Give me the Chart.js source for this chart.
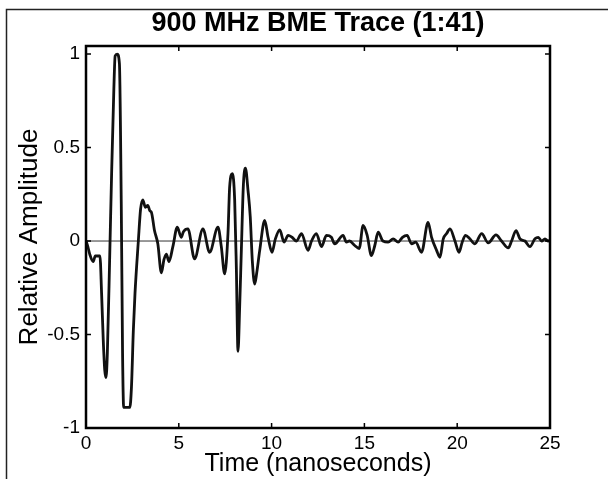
<!DOCTYPE html>
<html>
<head>
<meta charset="utf-8">
<script src="https://cdn.jsdelivr.net/npm/chart.js@4.4.1/dist/chart.umd.min.js"></script>
<style>
  html, body { margin: 0; padding: 0; background: #fff; }
  canvas { display: block; }
</style>
</head>
<body>
<canvas id="c" width="608" height="479"></canvas>
<script>
// ---- Data ----
const TITLE = '900 MHz BME Trace (1:41)';
const X_LABEL = 'Time (nanoseconds)';
const Y_LABEL = 'Relative Amplitude';
const xTicks = [0, 5, 10, 15, 20, 25];
const yTicks = [-1, -0.5, 0, 0.5, 1];

const timeNs = [
  0.0, 0.1, 0.2, 0.39, 0.5, 0.75, 0.84, 0.93, 1.01, 1.08, 1.15, 1.28, 1.38, 1.5, 1.57, 1.68, 1.8, 1.9, 1.97, 2.03,
  2.36, 2.45, 2.55, 2.64, 2.82, 2.94, 3.06, 3.2, 3.33, 3.45, 3.52, 3.69, 3.87, 4.06, 4.2, 4.33, 4.47, 4.68, 4.92, 5.13,
  5.25, 5.49, 5.85, 6.3, 6.66, 7.11, 7.29, 7.47, 7.65, 7.74, 7.89, 8.01, 8.1, 8.19, 8.28, 8.37, 8.48, 8.59, 8.73, 8.85,
  8.96, 9.09, 9.2, 9.36, 9.63, 9.81, 10.02, 10.2, 10.44, 10.67, 10.89, 11.1, 11.34, 11.61, 11.96, 12.15, 12.41, 12.69, 12.95, 13.22,
  13.4, 13.85, 14.03, 14.2, 14.48, 14.72, 14.93, 15.15, 15.38, 15.56, 15.74, 16.0, 16.28, 16.55, 16.82, 17.05, 17.3, 17.54, 17.76, 18.08,
  18.43, 18.62, 18.89, 19.07, 19.25, 19.43, 19.61, 19.88, 20.1, 20.27, 20.45, 20.68, 20.95, 21.32, 21.67, 22.09, 22.39, 22.75, 22.93, 23.17,
  23.38, 23.65, 23.92, 24.19, 24.37, 24.55, 24.73, 24.91, 25.0
];
const amplitude = [
  0.0, -0.03, -0.07, -0.11, -0.08, -0.08, -0.28, -0.53, -0.69, -0.73, -0.6, -0.07, 0.36, 0.81, 0.99, 1.0, 0.95, 0.2, -0.6, -0.89,
  -0.89, -0.78, -0.48, -0.28, 0.0, 0.17, 0.22, 0.18, 0.19, 0.16, 0.155, 0.056, -0.015, -0.17, -0.1, -0.07, -0.11, -0.03, 0.074, 0.02,
  0.05, 0.065, -0.095, 0.065, -0.06, 0.074, -0.03, -0.176, 0.04, 0.29, 0.36, 0.22, -0.14, -0.59, -0.35, -0.05, 0.3, 0.39, 0.27, 0.13,
  -0.105, -0.23, -0.17, -0.05, 0.11, 0.02, -0.06, 0.01, 0.06, -0.006, 0.03, 0.02, 0.0, 0.04, -0.05, 0.0, 0.04, -0.03, 0.03, 0.02,
  -0.015, 0.03, -0.006, 0.0, -0.024, -0.04, 0.083, 0.03, -0.078, -0.024, 0.047, 0.0, -0.006, 0.012, -0.006, 0.02, 0.03, -0.015, -0.006, -0.06,
  0.1, 0.02, -0.05, -0.087, 0.012, 0.04, 0.065, 0.0, -0.06, -0.006, 0.03, 0.012, -0.015, 0.04, -0.01, 0.033, 0.0, -0.037, 0.0, 0.056,
  0.012, 0.0, -0.03, 0.012, 0.02, 0.0, 0.012, 0.0, 0.005
];
const zeroLineX = [0, 25];
const zeroLineY = [0, 0];

// ---- Build datasets from the arrays ----
const traceData = timeNs.map((t, i) => ({ x: t, y: amplitude[i] }));
const zeroData = zeroLineX.map((t, i) => ({ x: t, y: zeroLineY[i] }));

const FONT = '"Liberation Sans", Arial, Helvetica, sans-serif';

const frameAndTicks = {
  id: 'frameAndTicks',
  afterDatasetsDraw(chart) {
    const { ctx, chartArea: a, scales } = chart;
    ctx.save();
    ctx.strokeStyle = '#000';
    // inward tick marks
    ctx.lineWidth = 1.5;
    const tl = 5;
    ctx.beginPath();
    xTicks.forEach(v => {
      const px = scales.x.getPixelForValue(v);
      ctx.moveTo(px, a.bottom); ctx.lineTo(px, a.bottom - tl);
      ctx.moveTo(px, a.top); ctx.lineTo(px, a.top + tl);
    });
    yTicks.forEach(v => {
      const py = scales.y.getPixelForValue(v);
      ctx.moveTo(a.left, py); ctx.lineTo(a.left + tl, py);
      ctx.moveTo(a.right, py); ctx.lineTo(a.right - tl, py);
    });
    ctx.stroke();
    // axes box
    ctx.lineWidth = 2.5;
    ctx.strokeRect(a.left, a.top, a.right - a.left, a.bottom - a.top);
    ctx.restore();
  },
  afterDraw(chart) {
    // scanned page frame (left and top edges)
    const { ctx } = chart;
    ctx.save();
    ctx.strokeStyle = '#222';
    ctx.lineWidth = 1.5;
    ctx.beginPath();
    ctx.moveTo(6.5, 479); ctx.lineTo(6.5, 9.5); ctx.lineTo(608, 9.5);
    ctx.stroke();
    ctx.restore();
  }
};

new Chart(document.getElementById('c'), {
  type: 'line',
  data: {
    datasets: [
      {
        label: 'zero',
        data: zeroData,
        borderColor: '#333',
        borderWidth: 1,
        pointRadius: 0,
        order: 2
      },
      {
        label: 'trace',
        data: traceData,
        borderColor: '#111',
        borderWidth: 2.8,
        pointRadius: 0,
        cubicInterpolationMode: 'monotone',
        order: 1
      }
    ]
  },
  options: {
    responsive: false,
    animation: false,
    layout: { padding: { left: 0, right: 58, top: 0, bottom: 0 } },
    plugins: {
      legend: { display: false },
      tooltip: { enabled: false },
      title: {
        display: true,
        text: TITLE,
        fullSize: false,
        color: '#000',
        font: { family: FONT, size: 27, weight: 'bold', lineHeight: 1.2 },
        padding: { top: 7, bottom: 6.6 }
      }
    },
    scales: {
      x: {
        type: 'linear',
        min: 0,
        max: 25,
        afterBuildTicks: s => { s.ticks = xTicks.map(v => ({ value: v })); },
        afterFit: s => { s.height = 51; },
        grid: { display: false, drawTicks: false },
        border: { display: false },
        ticks: {
          color: '#000',
          padding: 4,
          maxRotation: 0,
          font: { family: FONT, size: 19 },
          callback: v => String(v)
        },
        title: {
          display: true,
          text: X_LABEL,
          color: '#000',
          font: { family: FONT, size: 25, lineHeight: 1.2 },
          padding: { top: 0, bottom: 0 }
        }
      },
      y: {
        type: 'linear',
        min: -1,
        max: 1.043,
        afterBuildTicks: s => { s.ticks = yTicks.map(v => ({ value: v })); },
        afterFit: s => { s.width = 86; },
        grid: { display: false, drawTicks: false },
        border: { display: false },
        ticks: {
          color: '#000',
          padding: 6,
          font: { family: FONT, size: 19 },
          callback: v => String(v)
        },
        title: {
          display: true,
          text: Y_LABEL,
          color: '#000',
          font: { family: FONT, size: 26, lineHeight: 1.2 },
          padding: { top: 14, bottom: 0 }
        }
      }
    }
  },
  plugins: [frameAndTicks]
});
</script>
</body>
</html>
